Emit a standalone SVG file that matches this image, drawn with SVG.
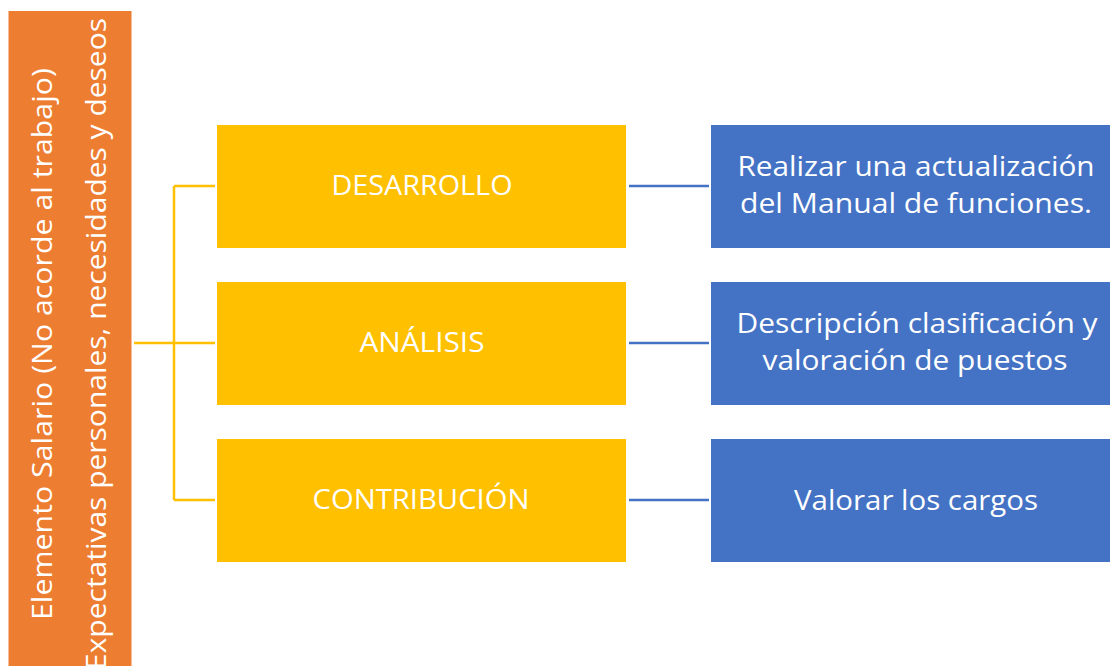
<svg xmlns="http://www.w3.org/2000/svg" width="1110" height="666" viewBox="0 0 1110 666">
<style>
.t{font-family:"Open Sans","Noto Sans","Liberation Sans",sans-serif;fill:#fff;font-size:28px;text-anchor:middle}
.y{fill:#FFC000}
.b{fill:#4472C4}
.cy{stroke:#FFC000;stroke-width:2.5;fill:none}
.cb{stroke:#4472C4;stroke-width:2.5;fill:none}
</style>
<rect width="1110" height="666" fill="#fff"/>
<g id="root">
<rect x="8.5" y="11" width="123" height="670" fill="#ED7D31"/>
<text class="t" transform="translate(52,344) rotate(-90)" textLength="552" lengthAdjust="spacingAndGlyphs">Elemento Salario (No acorde al trabajo)</text>
<text class="t" transform="translate(106,344) rotate(-90)" textLength="652" lengthAdjust="spacingAndGlyphs">Expectativas personales, necesidades y deseos</text>
</g>
<g id="connectors">
<path class="cy" d="M134 343H215M174 186V500M174 186H215M174 500H215"/>
<path class="cb" d="M629 186H709M629 343H709M629 500H709"/>
</g>
<g id="desarrollo">
<rect class="y" x="217" y="125" width="409" height="123"/>
<text class="t" x="422" y="195" textLength="181" lengthAdjust="spacingAndGlyphs">DESARROLLO</text>
</g>
<g id="analisis">
<rect class="y" x="217" y="282" width="409" height="123"/>
<text class="t" x="422" y="352" textLength="125" lengthAdjust="spacingAndGlyphs">ANÁLISIS</text>
</g>
<g id="contribucion">
<rect class="y" x="217" y="439" width="409" height="123"/>
<text class="t" x="421" y="509" textLength="217" lengthAdjust="spacingAndGlyphs">CONTRIBUCIÓN</text>
</g>
<g id="manual">
<rect class="b" x="711" y="125" width="399" height="123"/>
<text class="t" x="916" y="176" textLength="357" lengthAdjust="spacingAndGlyphs">Realizar una actualización</text>
<text class="t" x="916" y="213" textLength="352" lengthAdjust="spacingAndGlyphs">del Manual de funciones.</text>
</g>
<g id="descripcion">
<rect class="b" x="711" y="282" width="399" height="123"/>
<text class="t" x="917" y="333" textLength="361" lengthAdjust="spacingAndGlyphs">Descripción clasificación y</text>
<text class="t" x="915" y="370" textLength="305" lengthAdjust="spacingAndGlyphs">valoración de puestos</text>
</g>
<g id="valorar">
<rect class="b" x="711" y="439" width="399" height="123"/>
<text class="t" x="916" y="510" textLength="244" lengthAdjust="spacingAndGlyphs">Valorar los cargos</text>
</g>
</svg>
